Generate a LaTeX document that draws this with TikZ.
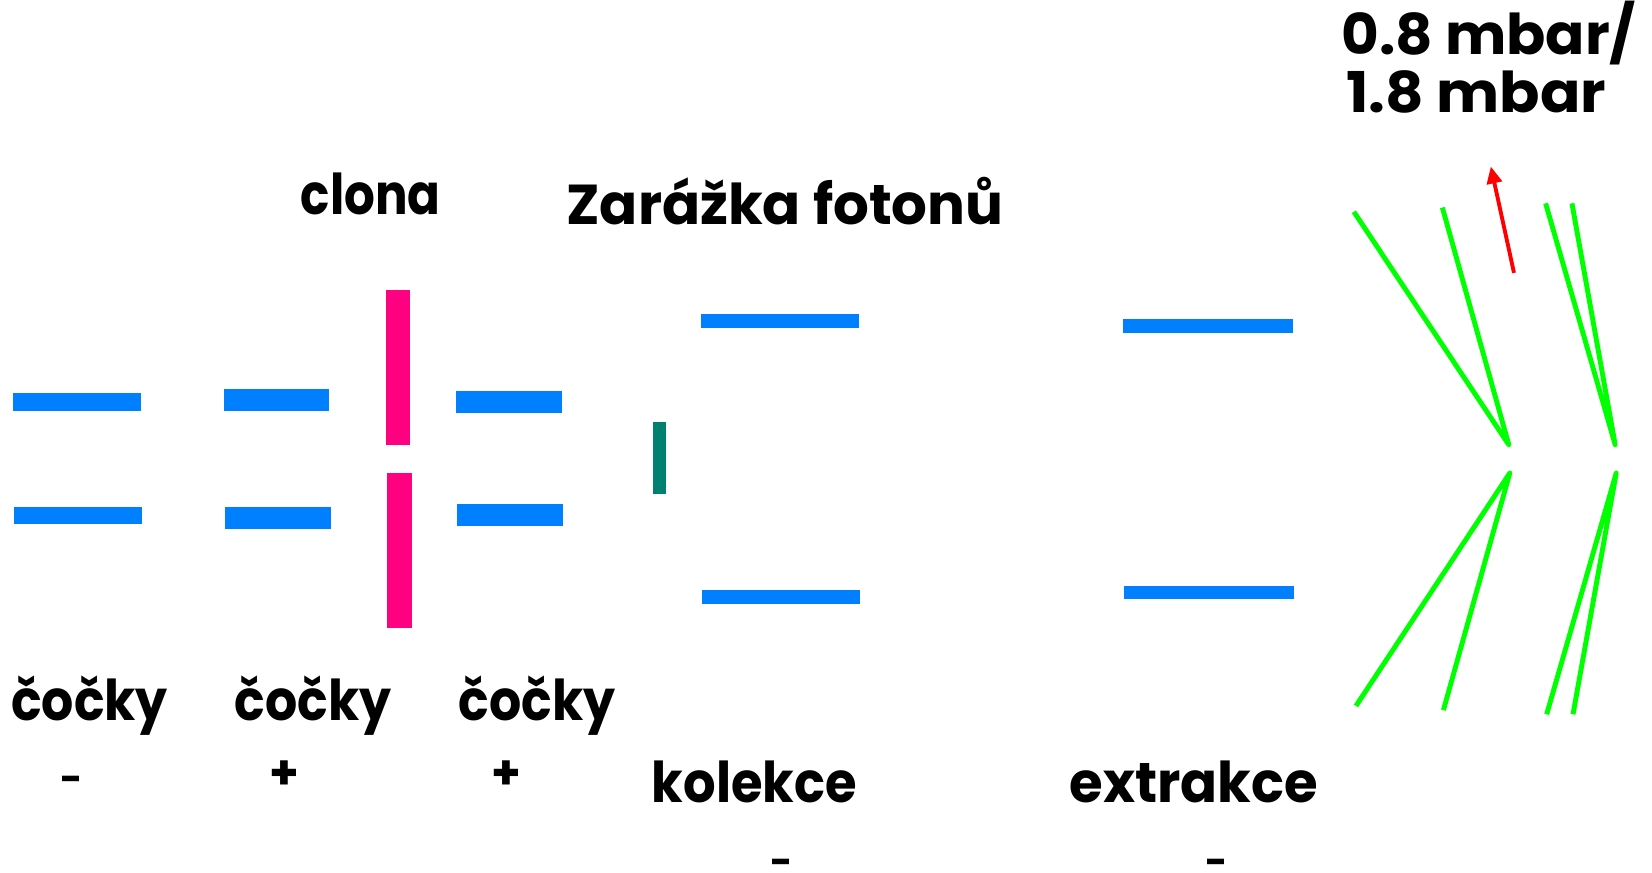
\documentclass[tikz,border=0pt]{standalone}
\usepackage{fontspec}
\setmainfont{Poppins}
\usetikzlibrary{arrows.meta}
\definecolor{lensblue}{RGB}{0,128,255}
\definecolor{stoppink}{RGB}{255,0,128}
\definecolor{stopteal}{RGB}{0,128,112}
\definecolor{funnelgreen}{RGB}{0,255,0}
\newcommand{\squeezed}[2]{\scalebox{#1}[1]{#2}}
\tikzset{
  bar/.style={fill=lensblue},
  lbl/.style={anchor=base,inner sep=0pt,font=\fontsize{32}{32}\selectfont\bfseries},
  plussign/.style={inner sep=0pt,font=\fontsize{27}{27}\selectfont\bfseries},
  minussign/.style={anchor=base,inner sep=0pt,font=\fontsize{22}{22}\selectfont\bfseries},
  funnel/.style={draw=funnelgreen,line width=2.8pt,line join=round},
}
\begin{document}
\begin{tikzpicture}[x=0.02107cm,y=-0.02107cm,>={Stealth[length=0.34cm,width=0.3cm,inset=0pt]},semithick]
                \useasboundingbox(0, 0) rectangle (1568, 828);
                \fill[bar](12, 373) rectangle (134, 390);
                \fill[bar](13, 481) rectangle (135, 497);
                \fill[bar](213, 369) rectangle (312, 390);
                \fill[bar](214, 481) rectangle (314, 502);
                \fill[bar](433, 371) rectangle (533, 392);
                \fill[bar](434, 478) rectangle (534, 499);
                \fill[bar](665, 298) rectangle (815, 311);
                \fill[bar](666, 560) rectangle (816, 573);
                \fill[bar](1066, 303) rectangle (1227, 316);
                \fill[bar](1067, 556) rectangle (1228, 569);
                \fill[stoppink](366, 275) rectangle (389, 422);
                \fill[stoppink](367, 449) rectangle (391, 596);
                \fill[stopteal](620, 401) rectangle (632, 469);
                \coordinate(apexA)at(1432, 422);
                \coordinate(apexB)at(1533, 422);
                \coordinate(apexC)at(1433, 449);
                \coordinate(apexD)at(1534, 449);
                \coordinate(upA)at(1285, 201);
                \coordinate(upB)at(1369, 197);
                \coordinate(upC)at(1467, 193);
                \coordinate(upD)at(1492, 193);
                \coordinate(downA)at(1287, 670);
                \coordinate(downB)at(1370, 674);
                \coordinate(downC)at(1468, 678);
                \coordinate(downD)at(1493, 678);
                \draw[funnel](upA) -- (apexA) -- (upB);
                \draw[funnel](upC) -- (apexB) -- (upD);
                \draw[funnel](downA) -- (apexC) -- (downB);
                \draw[funnel](downC) -- (apexD) -- (downD);
                \coordinate(pumpFrom)at(1437, 259);
                \coordinate(pumpTo)at(1415, 158);
                \draw[->,red,line width=2.2pt](pumpFrom) -- (pumpTo);
                \node[lbl](clona)at(352, 204){\squeezed{.86}{clona}};
                \node[lbl](stop)at(745, 213){Zarážka fotonů};
                \node[lbl](pressA)at(1413, 52){\squeezed{1.03}{0.8 mbar/}};
                \node[lbl](pressB)at(1401, 107){\squeezed{1.06}{1.8 mbar}};
                \node[lbl](lensA)at(85, 684){\squeezed{.9}{čočky}};
                \node[lbl](lensB)at(297, 684){\squeezed{.9}{čočky}};
                \node[lbl](lensC)at(510, 684){\squeezed{.9}{čočky}};
                \node[lbl](kolekce)at(716, 762){\squeezed{.91}{kolekce}};
                \node[lbl](extrakce)at(1133, 762){\squeezed{.97}{extrakce}};
                \node[minussign](signA)at(68, 752){-};
                \node[plussign](signB)at(270, 736){+};
                \node[plussign](signC)at(481, 736){+};
                \node[minussign](signD)at(742, 831){-};
                \node[minussign](signE)at(1155, 831){-};
\end{tikzpicture}
\end{document}
